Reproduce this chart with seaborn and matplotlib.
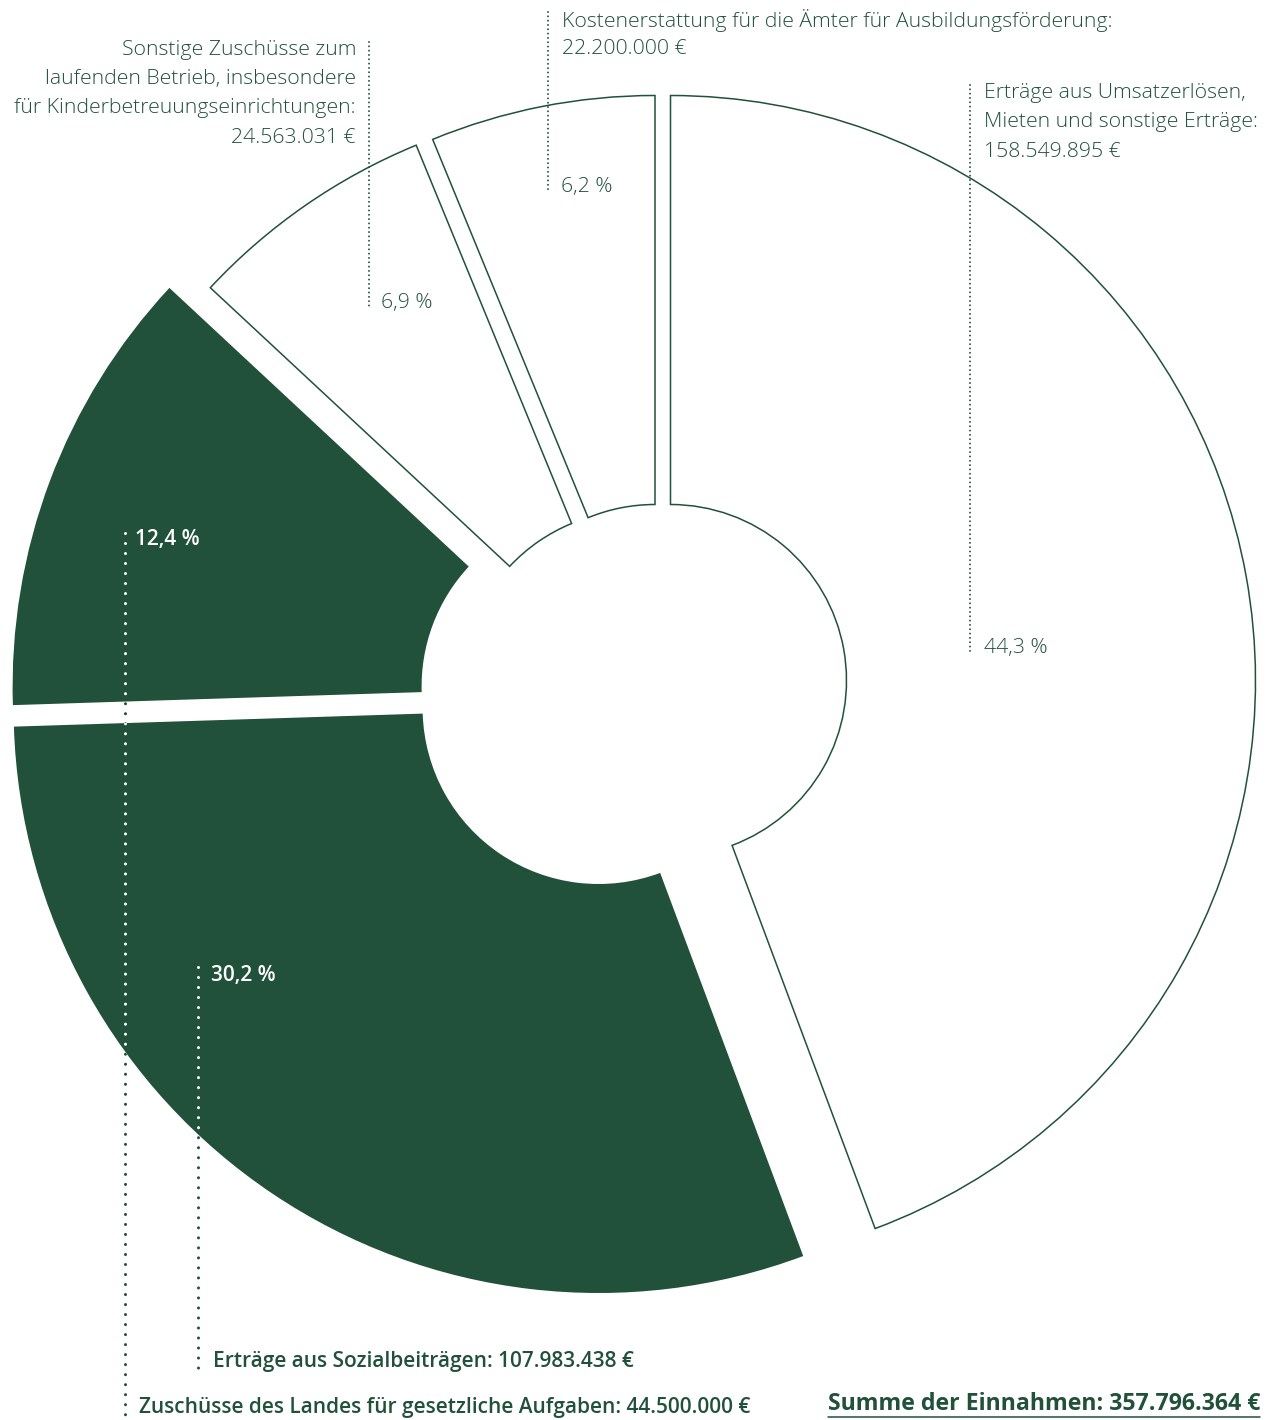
import numpy as np
import matplotlib.pyplot as plt
import seaborn as sns

sns.set_theme(style="white")
plt.rcParams['font.family'] = ['Open Sans', 'DejaVu Sans']
plt.rcParams['lines.scale_dashes'] = False

GREEN = '#22513b'

# Data (Einnahmen)
categories = [
    "Erträge aus Umsatzerlösen, Mieten und sonstige Erträge",
    "Erträge aus Sozialbeiträgen",
    "Zuschüsse des Landes für gesetzliche Aufgaben",
    "Sonstige Zuschüsse zum laufenden Betrieb, insbesondere für Kinderbetreuungseinrichtungen",
    "Kostenerstattung für die Ämter für Ausbildungsförderung",
]
values = [158549895, 107983438, 44500000, 24563031, 22200000]
filled = [False, True, True, False, False]

# label text broken into lines as in the layout
label_lines = [
    ["Erträge aus Umsatzerlösen,", "Mieten und sonstige Erträge:"],
    ["Erträge aus Sozialbeiträgen:"],
    ["Zuschüsse des Landes für gesetzliche Aufgaben:"],
    ["Sonstige Zuschüsse zum", "laufenden Betrieb, insbesondere", "für Kinderbetreuungseinrichtungen:"],
    ["Kostenerstattung für die Ämter für Ausbildungsförderung:"],
]


def euro(v):
    return f"{v:,}".replace(",", ".") + " €"


total = sum(values)
pct = [f"{v / total * 100:.1f}".replace(".", ",") + " %" for v in values]

fig = plt.figure(figsize=(12.72, 14.2), dpi=100)
ax = fig.add_axes([0, 0, 1, 1])

# donut, drawn in pixel-like coordinates (y pointing down)
wedges, _ = ax.pie(values, startangle=-90, counterclock=True, radius=585,
                   center=(610, 690),
                   wedgeprops=dict(width=409, linewidth=1.1, joinstyle='miter'))

# each slice is pulled apart a little (2d explode)
nudge = [(60.5, -9.5), (-11.4, 18), (-12.4, -3.5), (28.5, -3.7), (45, -9.5)]
for w, (dx, dy), f in zip(wedges, nudge, filled):
    cx, cy = w.center
    w.set_center((cx + dx, cy + dy))
    if f:
        w.set_facecolor(GREEN)
        w.set_edgecolor('none')
    else:
        w.set_facecolor('white')
        w.set_edgecolor(GREEN)

ax.set_xlim(0, 1272)
ax.set_ylim(1420, 0)
ax.axis('off')

fine = dict(color=GREEN, lw=1.4, ls=(0, (0.01, 3.1)), dash_capstyle='round', zorder=3)
coarse = dict(lw=2.2, ls=(0, (0.01, 7.2)), dash_capstyle='round')

light = dict(color=GREEN, fontsize=15.3, fontweight='light', va='center')

# top labels (leader lines + text)
ax.plot([548, 548], [12, 193], **fine)
for i, line in enumerate(label_lines[4] + [euro(values[4])]):
    ax.text(562, 20 + i * 29.5, line, ha='left', **light)
ax.text(561, 187, pct[4], ha='left', **light)

ax.plot([369, 369], [42, 309], **fine)
for i, line in enumerate(label_lines[3] + [euro(values[3])]):
    ax.text(356, 50 + i * 29.2, line, ha='right', **light)
ax.text(381, 303, pct[3], ha='left', **light)

ax.plot([970, 970], [85, 654], **fine)
for i, line in enumerate(label_lines[0] + [euro(values[0])]):
    ax.text(984, 93 + i * 29.5, line, ha='left', **light)
ax.text(984, 648, pct[0], ha='left', **light)

# bottom labels, dots white on the dark slices
for x, y0, y1 in [(125, 533, 1416), (198, 967, 1370)]:
    ax.plot([x, x], [y0, y1], color=GREEN, zorder=3, **coarse)
    for k in (1, 2):
        ln, = ax.plot([x, x], [y0, y1], color='white', zorder=4, **coarse)
        ln.set_clip_path(wedges[k])

bold = dict(fontsize=15, fontweight='semibold', va='center')
ax.text(135, 539, pct[2], color='white', ha='left', **bold)
ax.text(211, 976, pct[1], color='white', ha='left', **bold)
ax.text(213, 1362, label_lines[1][0] + " " + euro(values[1]), color=GREEN, ha='left', **bold)
ax.text(139, 1407, label_lines[2][0] + " " + euro(values[2]), color=GREEN, ha='left', **bold)

tot = ax.text(1260, 1404, "Summe der Einnahmen: " + euro(total), color=GREEN,
              ha='right', va='center', fontsize=16.7, fontweight='bold')
fig.canvas.draw()
bb = tot.get_window_extent(fig.canvas.get_renderer()).transformed(ax.transData.inverted())
uy = max(bb.y0, bb.y1) + 1
ax.plot([bb.x0, bb.x1], [uy, uy], color=GREEN, lw=1.1)

fig.savefig('out.png', dpi=100, facecolor='white')
